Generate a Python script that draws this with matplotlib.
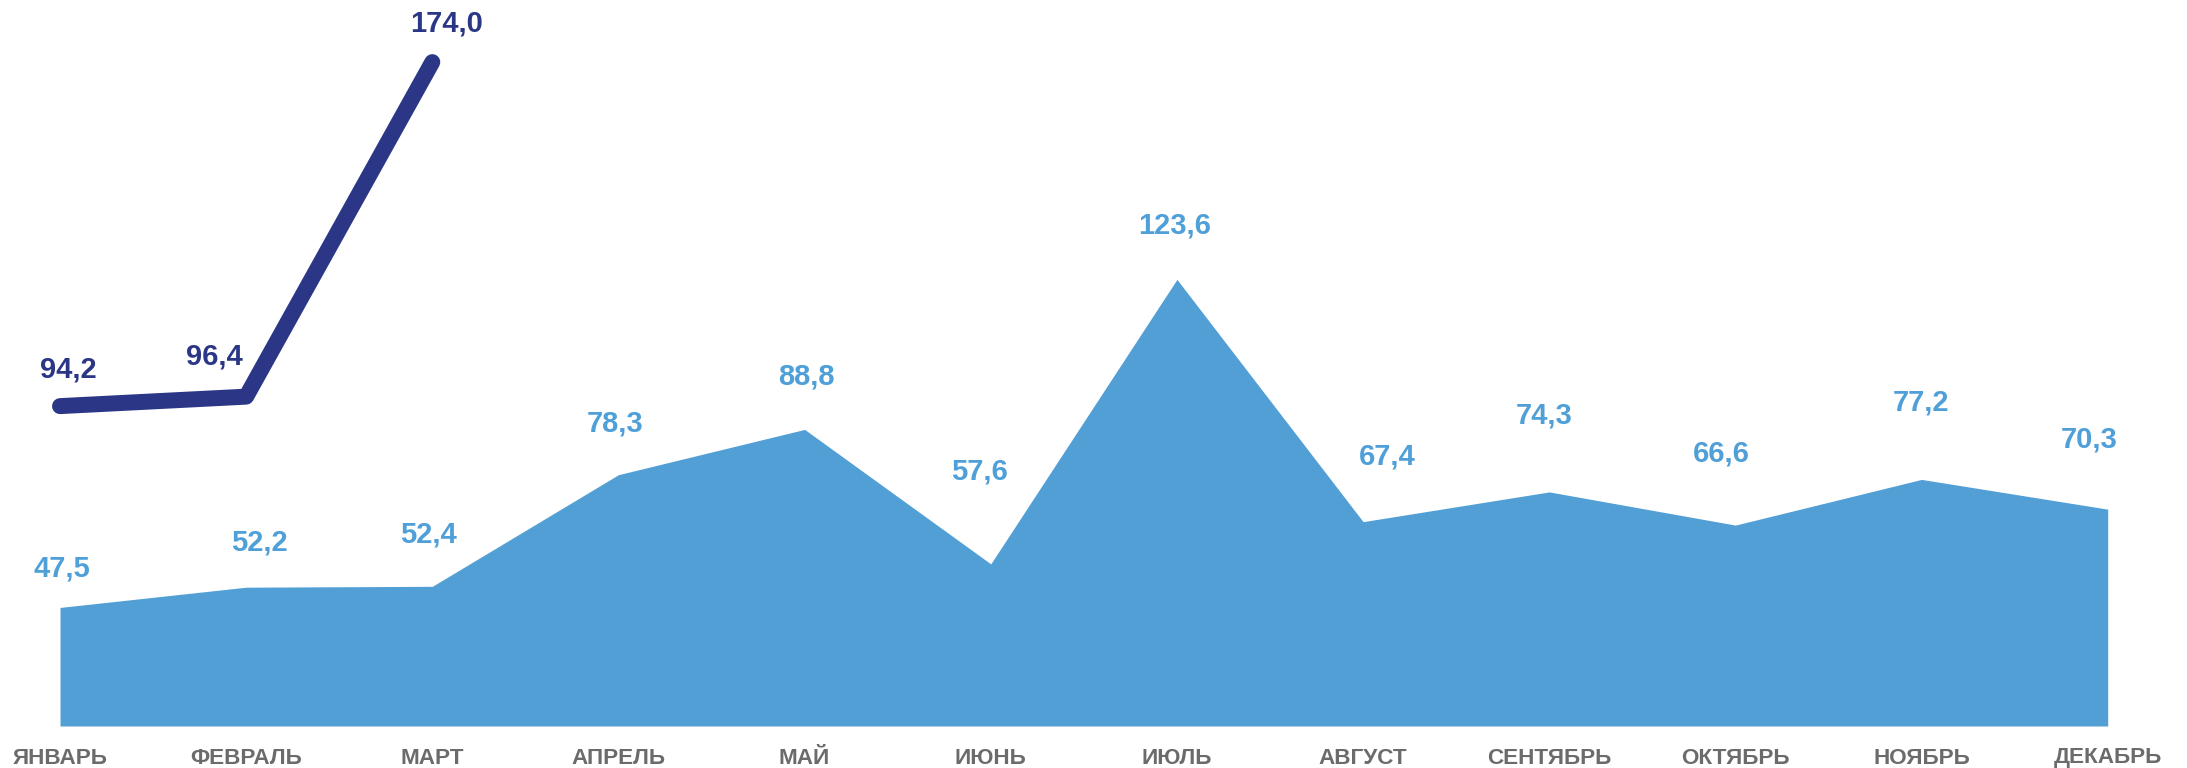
import matplotlib
matplotlib.use("Agg")
import matplotlib.pyplot as plt

months = ["ЯНВАРЬ", "ФЕВРАЛЬ", "МАРТ", "АПРЕЛЬ", "МАЙ", "ИЮНЬ",
          "ИЮЛЬ", "АВГУСТ", "СЕНТЯБРЬ", "ОКТЯБРЬ", "НОЯБРЬ", "ДЕКАБРЬ"]
prev_year = [47.5, 52.2, 52.4, 78.3, 88.8, 57.6, 123.6, 67.4, 74.3, 66.6, 77.2, 70.3]
cur_year = [94.2, 96.4, 174.0]

# label offsets (pixels) of label centres relative to points
prev_off = [(2, 41), (13, 47), (-4, 54), (-3, 54), (2, 55), (-11, 95),
            (-2, 56), (24, 68), (-5, 79), (-14, 74), (-1, 79), (-19, 72)]
cur_off = [(8, 39), (-32, 43), (14, 41)]

AREA = "#529FD6"
LIGHT = "#4F9FD8"
DARK = "#2B3786"
GRAY = "#6B6B6B"

plt.rcParams['font.family'] = ['Liberation Sans', 'DejaVu Sans']

fig = plt.figure(figsize=(21.87, 7.68), dpi=100)
ax = fig.add_axes([60 / 2187, 42 / 768, 2047.7 / 2187, 726 / 768])
x = list(range(len(months)))
ymin = 20
ax.set_xlim(0, 11)
ax.set_ylim(ymin, ymin + 726 / 4.311)
ax.axis('off')

ax.fill_between(x, prev_year, ymin, color=AREA, linewidth=0)
ax.plot(x[:len(cur_year)], cur_year, color=DARK, lw=11.5,
        solid_capstyle='round', solid_joinstyle='round', clip_on=False)

half = 10.4
for i, v in enumerate(prev_year):
    dx, dy = prev_off[i]
    ax.annotate(f"{v:.1f}".replace('.', ','), xy=(i, v), xytext=(dx, dy - half),
                textcoords='offset pixels', ha='center', va='baseline',
                fontsize=21, fontweight='bold', color=LIGHT, annotation_clip=False)
for i, v in enumerate(cur_year):
    dx, dy = cur_off[i]
    ax.annotate(f"{v:.1f}".replace('.', ','), xy=(i, v), xytext=(dx, dy - half),
                textcoords='offset pixels', ha='center', va='baseline',
                fontsize=21, fontweight='bold', color=DARK, annotation_clip=False)

for i, m in enumerate(months):
    ax.annotate(m, xy=(i, 0), xycoords=('data', 'axes fraction'), xytext=(0, -37.5),
                textcoords='offset pixels', ha='center', va='baseline',
                fontsize=16.2, fontweight='bold', color=GRAY, annotation_clip=False)

fig.savefig("out.png", dpi=100, facecolor='white')
